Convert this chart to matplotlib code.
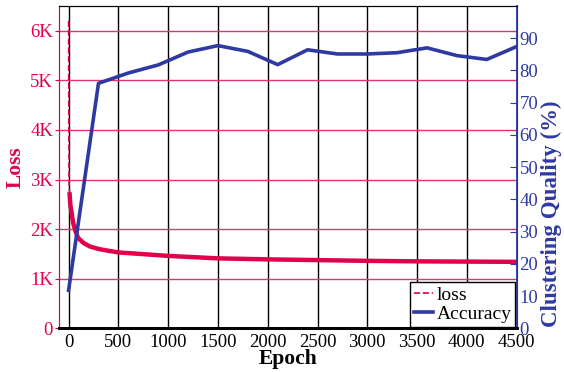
import matplotlib
matplotlib.use('Agg')
import matplotlib.pyplot as plt
from matplotlib.lines import Line2D
import numpy as np

plt.rcParams['font.family'] = ['Liberation Serif', 'DejaVu Serif']

# loss curve (in units of loss)
loss_epoch = [0, 2, 5, 10, 15, 20, 30, 46, 70, 96, 150, 213, 300, 380, 500, 716,
              1000, 1300, 1500, 2000, 2500, 3000, 3500, 4000, 4500]
loss_val = [6200, 4500, 2900, 2700, 2550, 2450, 2330, 2120, 1950, 1820, 1720, 1650,
            1600, 1570, 1530, 1500, 1460, 1430, 1410, 1390, 1375, 1360, 1350, 1345, 1340]

# accuracy every 300 epochs
acc_epoch = [0, 300, 600, 900, 1200, 1500, 1800, 2100, 2400, 2700, 3000, 3300,
             3600, 3900, 4200, 4500]
acc_val = [11.8, 76.0, 79.2, 81.7, 85.7, 87.7, 85.9, 81.8, 86.4, 85.1, 85.1, 85.5,
           87.0, 84.6, 83.4, 87.4]

loss_ticks = [0, 1000, 2000, 3000, 4000, 5000, 6000]
loss_ticklabels = ['0', '1K', '2K', '3K', '4K', '5K', '6K']
acc_ticks = [0, 10, 20, 30, 40, 50, 60, 70, 80, 90]
epoch_ticks = [0, 500, 1000, 1500, 2000, 2500, 3000, 3500, 4000, 4500]

red = '#E0004D'
red_grid = '#E3336B'
blue = '#2E3AA2'

fig = plt.figure(figsize=(5.64, 3.72), dpi=100)
ax = fig.add_axes([0.104, 0.1175, 0.812, 0.8665])
ax2 = ax.twinx()

# loss: thin dashed line + thicker band for the noisy tail
ax.plot(loss_epoch, loss_val, '--', color=red, lw=1.2, zorder=3)
ax.plot(loss_epoch[3:], loss_val[3:], '-', color=red, lw=3.2, zorder=3)

ax2.plot(acc_epoch, acc_val, '-', color=blue, lw=2.6, zorder=4)

ax.set_xlim(-100, 4500)
ax.set_ylim(0, 6500)
ax2.set_ylim(0, 100)

ax.set_xticks(epoch_ticks)
ax.set_yticks(loss_ticks)
ax.set_yticklabels(loss_ticklabels)
ax2.set_yticks(acc_ticks)

for t in epoch_ticks:
    ax.axvline(t, color='black', lw=1.0, zorder=1)
for t in loss_ticks[1:]:
    ax.axhline(t, color=red_grid, lw=1.0, zorder=1)

ax.tick_params(axis='x', length=0, labelsize=13.5, pad=4, colors='black')
ax.tick_params(axis='y', direction='out', length=3, colors=red, labelsize=13.5, pad=1)
ax2.tick_params(axis='y', direction='in', length=5, colors=blue, labelsize=13.5, pad=2)

ax.spines['left'].set_color(red)
ax.spines['bottom'].set_linewidth(2.0)
ax2.spines['bottom'].set_linewidth(2.0)
ax2.spines['left'].set_color(red)
ax2.spines['right'].set_color(blue)
ax2.spines['right'].set_linewidth(1.3)

ax.set_xlabel('Epoch', fontsize=15.5, fontweight='bold', labelpad=-1)
ax.set_ylabel('Loss', fontsize=15.5, fontweight='bold', color=red, labelpad=3)
ax2.set_ylabel('Clustering Quality (%)', fontsize=16.5, fontweight='bold', color=blue)
ax2.yaxis.set_label_coords(1.052, 0.355)

handles = [Line2D([], [], color=red, ls='--', lw=1.2),
           Line2D([], [], color=blue, lw=2.6)]
leg = ax2.legend(handles, ['loss', 'Accuracy'], loc='lower right',
                 bbox_to_anchor=(0.997, 0.004), borderaxespad=0, fancybox=False,
                 edgecolor='black', framealpha=1, fontsize=14, handlelength=1.0,
                 handletextpad=0.15, borderpad=0.2, labelspacing=0.1)
leg.get_frame().set_linewidth(1.0)
leg.set_zorder(10)

fig.savefig('out.png', dpi=100)
